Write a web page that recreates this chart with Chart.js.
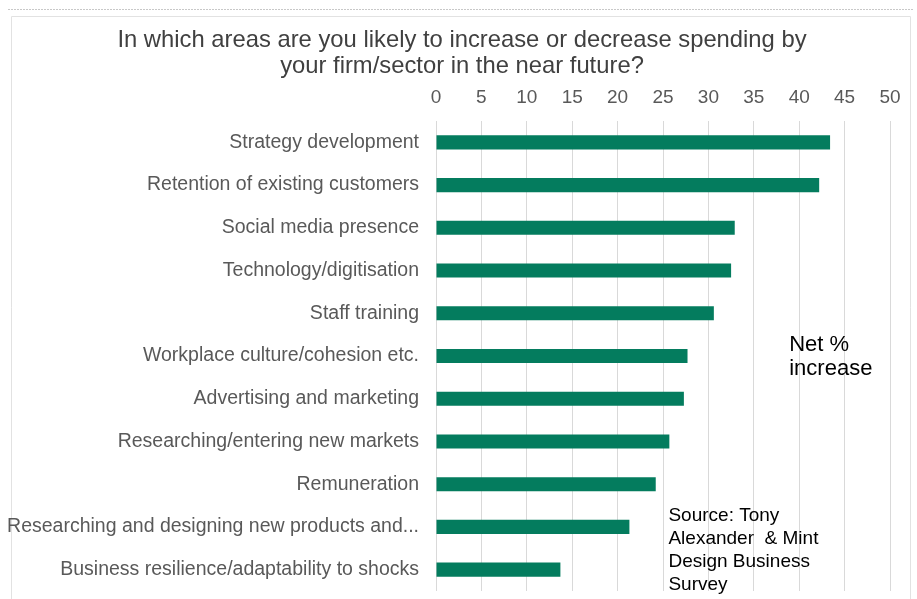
<!DOCTYPE html>
<html>
<head>
<meta charset="utf-8">
<script src="https://cdn.jsdelivr.net/npm/chart.js@4"></script>
<style>
  html, body { margin: 0; padding: 0; background: #fff; }
  #wrap { width: 917px; height: 599px; position: relative; }
</style>
</head>
<body>
<div id="wrap"><canvas id="spendChart" width="917" height="599"></canvas></div>
<script>
const areas = [
    "Strategy development",
    "Retention of existing customers",
    "Social media presence",
    "Technology/digitisation",
    "Staff training",
    "Workplace culture/cohesion etc.",
    "Advertising and marketing",
    "Researching/entering new markets",
    "Remuneration",
    "Researching and designing new products and...",
    "Business resilience/adaptability to shocks"
];
const netIncrease = [43.4, 42.2, 32.9, 32.5, 30.6, 27.7, 27.3, 25.7, 24.2, 21.3, 13.7];
const xTicks = [0, 5, 10, 15, 20, 25, 30, 35, 40, 45, 50];

const titleLines = [
    "In which areas are you likely to increase or decrease spending by",
    "your firm/sector in the near future?"
];
const noteLines = ["Net %", "increase"];
const sourceLines = ["Source: Tony", "Alexander  & Mint", "Design Business", "Survey"];

const FONT = "'Liberation Sans', Arial, sans-serif";

// frame, dotted rule and the two-line heading (centred on the frame, not the plot)
const framePlugin = {
    id: "frame",
    beforeDraw(chart) {
        const c = chart.ctx;
        c.save();
        c.fillStyle = "#fff";
        c.fillRect(0, 0, chart.width, chart.height);
        c.strokeStyle = "#c8c8c8";
        c.lineWidth = 1;
        c.setLineDash([2, 1]);
        c.beginPath();
        c.moveTo(8, 9.5);
        c.lineTo(913, 9.5);
        c.stroke();
        c.setLineDash([]);
        c.strokeStyle = "#e2e2e2";
        c.beginPath();
        c.moveTo(11.5, chart.height);
        c.lineTo(11.5, 16.5);
        c.lineTo(910.5, 16.5);
        c.lineTo(910.5, chart.height);
        c.stroke();

        c.fillStyle = "#404040";
        c.font = "23.8px " + FONT;
        c.textAlign = "center";
        c.textBaseline = "middle";
        titleLines.forEach((t, i) => c.fillText(t, 462, 40.5 + i * 25.5));
        c.restore();
    }
};

// free text notes inside the plot
const notesPlugin = {
    id: "notes",
    afterDraw(chart) {
        const c = chart.ctx;
        const x = chart.scales.x;
        const y = chart.scales.y;
        c.save();
        c.fillStyle = "#000";
        c.textBaseline = "middle";
        c.textAlign = "left";

        c.font = "22px " + FONT;
        const nx = x.getPixelForValue(38.9);
        const ny = y.getPixelForValue(5);
        noteLines.forEach((t, i) => c.fillText(t, nx, ny - 11 + i * 24));

        c.font = "19px " + FONT;
        const sx = x.getPixelForValue(25.6);
        const sy = y.getPixelForValue(9) - 11;
        sourceLines.forEach((t, i) => c.fillText(t, sx, sy + i * 22.8));
        c.restore();
    }
};

new Chart(document.getElementById("spendChart"), {
    type: "bar",
    data: {
        labels: areas,
        datasets: [{
            data: netIncrease,
            backgroundColor: "#047c5e",
            borderWidth: 0,
            barPercentage: 0.33,
            categoryPercentage: 1
        }]
    },
    plugins: [framePlugin, notesPlugin],
    options: {
        indexAxis: "y",
        responsive: false,
        animation: false,
        layout: { padding: { top: 79.7, right: 27, bottom: 8, left: 0 } },
        plugins: {
            legend: { display: false },
            tooltip: { enabled: false },
            title: { display: false }
        },
        scales: {
            x: {
                position: "top",
                min: 0,
                max: 50,
                afterBuildTicks(scale) {
                    scale.ticks = xTicks.map(v => ({ value: v }));
                },
                afterFit(scale) {
                    scale.height = 41.3;
                    scale.paddingLeft = 0;
                    scale.paddingRight = 0;
                },
                grid: { color: "#d9d9d9", drawTicks: false },
                border: { display: false },
                ticks: {
                    color: "#595959",
                    padding: 12,
                    font: { family: FONT, size: 19 }
                }
            },
            y: {
                afterFit(scale) {
                    scale.width = 436;
                    scale.paddingTop = 0;
                    scale.paddingBottom = 0;
                },
                grid: { display: false, drawTicks: false },
                border: { display: false },
                ticks: {
                    color: "#595959",
                    padding: 17,
                    autoSkip: false,
                    font: { family: FONT, size: 19.5 }
                }
            }
        }
    }
});
</script>
</body>
</html>
